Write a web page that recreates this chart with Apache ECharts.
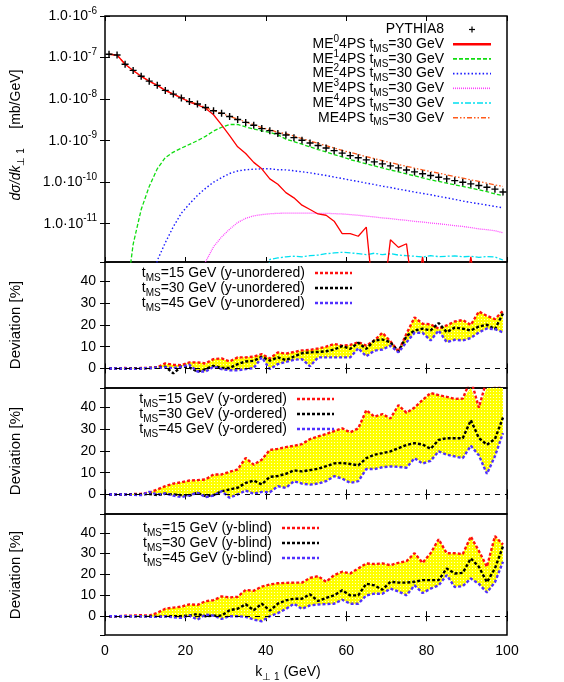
<!DOCTYPE html>
<html>
<head>
<meta charset="utf-8">
<script src="https://cdn.jsdelivr.net/npm/echarts@6/dist/echarts.min.js"></script>
<style>
  html, body { margin: 0; padding: 0; background: #fff; }
  #chart { width: 564px; height: 682px; }
</style>
</head>
<body>
<div id="chart"></div>
<script>
// bin centres, k_perp1 in GeV
var kt = [1, 3, 5, 7, 9, 11, 13, 15, 17, 19, 21, 23, 25, 27, 29, 31, 33, 35, 37, 39,
  41, 43, 45, 47, 49, 51, 53, 55, 57, 59, 61, 63, 65, 67, 69, 71, 73, 75, 77, 79,
  81, 83, 85, 87, 89, 91, 93, 95, 97, 99];

// top panel, dsigma/dk [mb/GeV]  (1e-13 = empty bin, below the frame)
var pythia8 = [1.2e-7, 1.15e-7, 6.9e-8, 4.9e-8, 3.55e-8, 2.7e-8, 2.14e-8, 1.62e-8, 1.32e-8, 1.07e-8,
  8.7e-9, 7.6e-9, 6.3e-9, 5.25e-9, 4.57e-9, 3.8e-9, 3.24e-9, 2.75e-9, 2.34e-9, 1.95e-9,
  1.74e-9, 1.48e-9, 1.37e-9, 1.18e-9, 1.02e-9, 8.8e-10, 7.65e-10, 6.65e-10, 5.75e-10, 5.0e-10,
  4.37e-10, 3.88e-10, 3.44e-10, 3.08e-10, 2.76e-10, 2.47e-10, 2.21e-10, 1.97e-10, 1.77e-10, 1.6e-10,
  1.45e-10, 1.32e-10, 1.2e-10, 1.09e-10, 1.0e-10, 9.1e-11, 8.3e-11, 7.55e-11, 6.8e-11, 5.8e-11];
var me0 = [1.2e-7, 1.15e-7, 6.9e-8, 4.9e-8, 3.55e-8, 2.7e-8, 2.14e-8, 1.62e-8, 1.32e-8, 1.07e-8,
  8.5e-9, 7.3e-9, 6.0e-9, 4.2e-9, 2.4e-9, 1.32e-9, 7.1e-10, 4.9e-10, 3.0e-10, 2.1e-10,
  1.2e-10, 8.9e-11, 5.6e-11, 4.2e-11, 2.8e-11, 2.2e-11, 1.72e-11, 1.6e-11, 1.15e-11, 5.8e-12,
  5.8e-12, 5.0e-12, 8.3e-12, 1e-13, 1e-13, 4.1e-12, 2.7e-12, 3.3e-12, 1e-13, 1.6e-12,
  1e-13, 1e-13, 1e-13, 1e-13, 1e-13, 1.6e-12, 1e-13, 1e-13, 1e-13, 1e-13];
var me1 = [1e-13, 1e-13, 1e-13, 3.2e-12, 2.2e-11, 7.9e-11, 2.1e-10, 3.9e-10, 5.3e-10, 6.6e-10,
  8.1e-10, 1.0e-9, 1.27e-9, 1.7e-9, 2.1e-9, 2.45e-9, 2.45e-9, 2.15e-9, 1.9e-9, 1.72e-9,
  1.58e-9, 1.38e-9, 1.09e-9, 9.5e-10, 8.2e-10, 7.05e-10, 6.1e-10, 5.37e-10, 4.61e-10, 4.06e-10,
  3.5e-10, 3.13e-10, 2.76e-10, 2.47e-10, 2.21e-10, 1.97e-10, 1.77e-10, 1.58e-10, 1.42e-10, 1.27e-10,
  1.14e-10, 1.04e-10, 9.5e-11, 8.65e-11, 7.9e-11, 7.2e-11, 6.55e-11, 5.95e-11, 5.2e-11, 4.75e-11];
var me2 = [1e-13, 1e-13, 1e-13, 1e-13, 1e-13, 1e-13, 1.3e-12, 3.5e-12, 8.5e-12, 1.8e-11,
  3.0e-11, 4.8e-11, 7.1e-11, 1.0e-10, 1.28e-10, 1.62e-10, 1.86e-10, 2.0e-10, 2.05e-10, 2.1e-10,
  2.1e-10, 2.0e-10, 1.98e-10, 1.88e-10, 1.78e-10, 1.68e-10, 1.56e-10, 1.45e-10, 1.33e-10, 1.23e-10,
  1.12e-10, 1.04e-10, 9.5e-11, 8.8e-11, 8.0e-11, 7.45e-11, 6.8e-11, 6.3e-11, 5.77e-11, 5.37e-11,
  4.98e-11, 4.56e-11, 4.22e-11, 3.85e-11, 3.52e-11, 3.26e-11, 3.03e-11, 2.82e-11, 2.6e-11, 2.42e-11];
var me3 = [1e-13, 1e-13, 1e-13, 1e-13, 1e-13, 1e-13, 1e-13, 1e-13, 1e-13, 1e-13,
  1e-13, 1e-13, 1.2e-12, 2.8e-12, 4.8e-12, 7.4e-12, 1.07e-11, 1.35e-11, 1.55e-11, 1.66e-11,
  1.74e-11, 1.78e-11, 1.8e-11, 1.8e-11, 1.8e-11, 1.8e-11, 1.78e-11, 1.78e-11, 1.75e-11, 1.72e-11,
  1.66e-11, 1.6e-11, 1.52e-11, 1.46e-11, 1.38e-11, 1.33e-11, 1.26e-11, 1.21e-11, 1.14e-11, 1.1e-11,
  1.04e-11, 1.0e-11, 9.5e-12, 9.0e-12, 8.6e-12, 8.1e-12, 7.5e-12, 7.2e-12, 6.8e-12, 6.1e-12];
var me4 = [1e-13, 1e-13, 1e-13, 1e-13, 1e-13, 1e-13, 1e-13, 1e-13, 1e-13, 1e-13,
  1e-13, 1e-13, 1e-13, 1e-13, 1e-13, 1e-13, 1e-13, 1e-13, 1e-13, 1e-13,
  1.38e-12, 1.5e-12, 1.6e-12, 1.65e-12, 1.6e-12, 1.7e-12, 1.76e-12, 1.9e-12, 1.98e-12, 2.05e-12,
  2.0e-12, 1.9e-12, 1.8e-12, 1.95e-12, 1.8e-12, 1.9e-12, 1.76e-12, 1.7e-12, 1.65e-12, 1.58e-12,
  1.7e-12, 1.62e-12, 1.65e-12, 1.68e-12, 1.6e-12, 1.65e-12, 1.55e-12, 1.62e-12, 1.58e-12, 1.34e-12];
var me4ps = [1.2e-7, 1.15e-7, 6.9e-8, 4.9e-8, 3.55e-8, 2.7e-8, 2.14e-8, 1.62e-8, 1.32e-8, 1.07e-8,
  8.7e-9, 7.6e-9, 6.3e-9, 5.25e-9, 4.57e-9, 3.8e-9, 3.3e-9, 2.82e-9, 2.42e-9, 2.05e-9,
  1.84e-9, 1.58e-9, 1.47e-9, 1.29e-9, 1.12e-9, 9.8e-10, 8.6e-10, 7.55e-10, 6.65e-10, 5.8e-10,
  5.2e-10, 4.64e-10, 4.1e-10, 3.7e-10, 3.31e-10, 2.97e-10, 2.66e-10, 2.42e-10, 2.17e-10, 1.97e-10,
  1.8e-10, 1.65e-10, 1.5e-10, 1.37e-10, 1.25e-10, 1.14e-10, 1.04e-10, 9.5e-11, 8.6e-11, 7.9e-11];

// deviation panels [%]
var unord15 = [0, 0, 0.2, 0, 0.2, 0.3, 0.5, 2.3, 1.7, 1.5, 2.8, 2.8, 2.3, 4.3, 4.6, 3.2, 5.1, 5.1, 5.4, 6.6,
  4.6, 7.4, 6.8, 7.6, 8.3, 8.5, 9.2, 10.0, 11.3, 10.5, 10.8, 12.1, 10.5, 12.9, 16.4, 12.5, 7.8, 16.0, 23.5, 20.6,
  20.3, 18.3, 19.8, 21.6, 22.3, 20.0, 26.2, 24.2, 22.7, 26.5];
var unord30 = [0, 0, -0.2, 0, 0, 0.2, 0.3, 0.8, -2.3, 0.8, 0.5, -1.5, -0.3, 1.2, 0.2, 0.2, 2.0, 3.2, 3.5, 5.4,
  3.6, 5.1, 3.8, 5.5, 7.0, 7.4, 7.6, 7.9, 8.7, 10.3, 9.0, 11.8, 9.0, 12.9, 13.3, 12.1, 7.8, 14.9, 17.5, 18.3,
  17.5, 20.9, 16.7, 18.8, 18.3, 17.5, 19.3, 20.1, 18.1, 25.3];
var unord45 = [0, 0, 0, -0.2, 0, 0.2, 0.3, 0.5, 0.2, 0.8, 1.7, -1.4, -1.4, 0.8, -0.3, -0.8, -0.8, -0.3, 0.2, 5.1,
  -0.3, 2.0, 3.0, 4.0, 4.3, 1.0, 5.1, 5.1, 5.1, 5.1, 5.1, 9.3, 5.6, 8.2, 8.7, 10.5, 7.4, 12.1, 16.4, 16.4,
  12.9, 17.5, 12.1, 13.2, 12.9, 14.0, 16.6, 18.4, 18.1, 16.6];
var ord15 = [0, 0, 0, 0.2, 0.3, 0.8, 2.3, 3.8, 5.0, 5.6, 6.4, 6.6, 6.9, 9.2, 9.2, 10.4, 11.5, 16.8, 13.7, 16.0,
  20.5, 21.0, 21.8, 22.4, 23.2, 25.5, 26.7, 27.8, 29.2, 30.4, 28.6, 30.4, 38.8, 35.8, 37.0, 35.0, 41.1, 37.6, 40.0, 43.5,
  46.7, 45.7, 44.9, 44.0, 44.1, 53, 40.0, 53, 50, 50];
var ord30 = [0, 0, 0, 0, 0, 0.2, -0.3, 0.3, 0, -0.3, -0.5, 0.8, -0.8, -0.3, 1.5, 2.3, 3.1, 5.3, 6.4, 4.6,
  8.1, 8.5, 9.5, 11.1, 10.6, 11.2, 11.8, 13.0, 14.3, 14.5, 14.0, 13.4, 16.7, 18.3, 19.0, 19.8, 21.3, 22.8, 23.6, 23.0,
  21.0, 25.1, 25.9, 25.9, 25.9, 34.2, 26.0, 22.9, 25.5, 35.4];
var ord45 = [0, 0, 0, -0.2, -0.3, 1.2, 0, 0.5, -0.5, -1.2, -0.3, 0.8, -1.2, -0.5, 1.5, -1.5, 0, 1.8, 0.3, 1.2,
  1.0, 3.8, 3.0, 6.1, 5.0, 4.5, 5.0, 6.1, 8.4, 7.3, 5.3, 6.1, 11.7, 11.7, 12.5, 12.9, 12.7, 12.3, 16.7, 14.2,
  15.5, 19.8, 18.3, 17.5, 16.7, 22.4, 18.0, 9.5, 17.6, 28.2];
var blind15 = [0, 0, 0.2, 0.3, 0.5, 0.3, 1.6, 3.6, 4.1, 4.6, 5.7, 5.4, 7.2, 7.7, 9.5, 9.0, 9.3, 12.6, 12.2, 14.2,
  15.2, 15.8, 16.0, 16.1, 16.1, 18.4, 19.2, 16.5, 19.7, 21.3, 20.5, 22.9, 25.3, 25.0, 25.3, 24.5, 25.6, 26.4, 30.2, 25.6,
  30.2, 36.9, 30.2, 30.2, 29.8, 38.2, 31.3, 23.7, 38.4, 34.3];
var blind30 = [0, 0, 0, 0, 0, 0, -0.3, 0, 0, 0, 0.3, 1.1, 0, 0.3, 0.3, 2.9, 3.6, 5.7, 2.9, 6.0,
  2.7, 6.0, 7.6, 8.4, 8.4, 10.5, 7.3, 8.8, 10.0, 12.4, 10.0, 10.0, 15.6, 14.8, 12.7, 16.5, 16.1, 16.1, 16.5, 17.3,
  17.3, 17.3, 22.9, 20.5, 20.8, 27.7, 23.7, 16.3, 22.9, 33.5];
var blind45 = [0, 0, 0, 0, 0, -0.2, -0.3, 0, -0.5, -0.8, 0.3, -1.6, 0.8, 0.3, -1.3, 0, 0, -0.3, -1.6, -2.4,
  0, 1.5, 3.5, 6.0, 3.5, 5.2, 5.6, 5.8, 6.0, 7.9, 6.0, 6.0, 10.0, 10.8, 10.8, 13.2, 11.9, 10.0, 14.8, 11.1,
  13.2, 14.8, 19.7, 14.0, 14.4, 18.1, 15.5, 11.4, 16.3, 26.1];

var FONT = '"Liberation Sans", Arial, Helvetica, sans-serif';
var RED = '#ff1010', BLK = '#000000', BLU = '#5030ff';
var DEV_MIN = -9, DEV_MAX = 49;

function pairs(ys) { return kt.map(function (k, i) { return [k, ys[i]]; }); }

// yellow cross-hatch used between the 15 and 45 GeV curves
var hatch = document.createElement('canvas');
hatch.width = 3; hatch.height = 3;
(function () {
  var c = hatch.getContext('2d');
  c.fillStyle = '#ffff00'; c.fillRect(0, 0, 3, 3);
  c.fillStyle = '#ffffc8'; c.fillRect(1, 1, 1, 1);
})();

var grids = [
  { left: 105, right: 57, top: 16, height: 246 },
  { left: 105, right: 57, top: 262, height: 126 },
  { left: 105, right: 57, top: 388, height: 126 },
  { left: 105, right: 57, top: 514, height: 121 }
];
grids.forEach(function (g) { g.show = true; g.borderColor = '#000'; g.borderWidth = 1.5; g.backgroundColor = 'transparent'; g.outerBoundsMode = 'none'; });

var tick = { show: true, inside: true, length: 5, lineStyle: { color: '#000', width: 1 } };
var xAxes = [], yAxes = [];
grids.forEach(function (g, i) {
  var last = i === grids.length - 1;
  xAxes.push({
    type: 'value', gridIndex: i, min: 0, max: 100, interval: 20, position: 'bottom',
    axisLine: { show: false }, axisTick: tick, splitLine: { show: false },
    axisLabel: { show: last, color: '#000', fontFamily: FONT, fontSize: 14, margin: 9 }
  });
  xAxes.push({
    type: 'value', gridIndex: i, min: 0, max: 100, interval: 20, position: 'top',
    axisLine: { show: false }, axisTick: tick, splitLine: { show: false }, axisLabel: { show: false }
  });
  if (i === 0) {
    var logLab = {
      color: '#000', margin: 8,
      formatter: function (v) {
        var e = Math.log10(v), r = Math.round(e);
        if (Math.abs(e - r) > 1e-6 || r < -11) return '';
        return '{a|1.0\u00b710}{s|' + r + '}';
      },
      rich: {
        a: { fontFamily: FONT, fontSize: 14, color: '#000', lineHeight: 20 },
        s: { fontFamily: FONT, fontSize: 10, color: '#000', lineHeight: 10, verticalAlign: 'top' }
      }
    };
    yAxes.push({ type: 'log', logBase: 10, gridIndex: 0, min: 1.2e-12, max: 1e-6, position: 'left',
      axisLine: { show: false }, axisTick: tick, splitLine: { show: false }, axisLabel: logLab });
    yAxes.push({ type: 'log', logBase: 10, gridIndex: 0, min: 1.2e-12, max: 1e-6, position: 'right',
      axisLine: { show: false }, axisTick: tick, splitLine: { show: false }, axisLabel: { show: false } });
  } else {
    var devLab = { color: '#000', fontFamily: FONT, fontSize: 14, margin: 9, showMinLabel: false, showMaxLabel: false };
    yAxes.push({ type: 'value', gridIndex: i, min: DEV_MIN, max: DEV_MAX, position: 'left',
      axisLine: { show: false }, axisTick: tick, splitLine: { show: false }, axisLabel: devLab });
    yAxes.push({ type: 'value', gridIndex: i, min: DEV_MIN, max: DEV_MAX, position: 'right',
      axisLine: { show: false }, axisTick: tick, splitLine: { show: false }, axisLabel: { show: false } });
  }
});

function topLine(name, ys, color, dash, width) {
  return {
    name: name, type: 'line', xAxisIndex: 0, yAxisIndex: 0, data: pairs(ys),
    symbol: 'none', clip: true, silent: true,
    lineStyle: { color: color, width: width || 1.3, type: dash || 'solid' }
  };
}

var series = [
  topLine('ME4PS', me4ps, '#ff5a1a', [5, 2, 1.5, 2, 1.5, 2], 1.3),
  topLine('ME4', me4, '#00e0f0', [6, 2, 2, 2], 1.3),
  topLine('ME3', me3, '#ff40ff', [1, 1], 1.3),
  topLine('ME2', me2, '#1a1aff', [1.5, 2.2], 1.4),
  topLine('ME1', me1, '#10dd10', [4, 2], 1.3),
  topLine('ME0', me0, '#ff0000', 'solid', 1.3),
  {
    name: 'PYTHIA8', type: 'scatter', xAxisIndex: 0, yAxisIndex: 0, data: pairs(pythia8),
    symbol: 'path://M4,0h2v4h4v2h-4v4h-2v-4h-4v-2h4z', symbolSize: 7, silent: true,
    itemStyle: { color: '#000', opacity: 1 }, z: 5
  }
];

function clampDev(v) { return Math.max(DEV_MIN, Math.min(DEV_MAX, v)); }

function devPanel(gi, lo, mid, hi) {
  var xa = 2 * gi, ya = 2 * gi;
  // hatched band between the 15 GeV and 45 GeV curves, one polygon
  series.push({
    type: 'custom', xAxisIndex: xa, yAxisIndex: ya, silent: true, z: 1,
    data: [[kt[0], 0]],
    renderItem: function (params, api) {
      var pts = [];
      for (var i = 0; i < kt.length; i++) pts.push(api.coord([kt[i], clampDev(lo[i])]));
      for (var j = kt.length - 1; j >= 0; j--) pts.push(api.coord([kt[j], clampDev(hi[j])]));
      return { type: 'polygon', shape: { points: pts }, style: { fill: { image: hatch, repeat: 'repeat' }, opacity: 1 } };
    }
  });
  [[lo, RED], [mid, BLK], [hi, BLU]].forEach(function (s, j) {
    var o = {
      type: 'line', xAxisIndex: xa, yAxisIndex: ya, data: pairs(s[0]), symbol: 'none', silent: true,
      lineStyle: { color: s[1], width: 2.4, type: [3, 2] }, z: 3
    };
    if (j === 1) {
      o.markLine = {
        silent: true, symbol: 'none', label: { show: false },
        lineStyle: { color: '#000', width: 1, type: [5, 5] },
        data: [{ yAxis: 0 }]
      };
    }
    series.push(o);
  });
}
devPanel(1, unord15, unord30, unord45);
devPanel(2, ord15, ord30, ord45);
devPanel(3, blind15, blind30, blind45);

// ---- keys and axis titles (enhanced text with super/subscripts)
var rich = {
  m: { fontFamily: FONT, fontSize: 14, fill: '#000', lineHeight: 20 },
  i: { fontFamily: FONT, fontSize: 14, fill: '#000', lineHeight: 20, fontStyle: 'italic' },
  p: { fontFamily: FONT, fontSize: 10, fill: '#000', lineHeight: 10, verticalAlign: 'top' },
  b: { fontFamily: FONT, fontSize: 10, fill: '#000', lineHeight: 10, verticalAlign: 'bottom' },
  d: { fontFamily: FONT, fontSize: 15, fill: '#000', lineHeight: 20 }
};
function txt(x, y, text, align, rot) {
  return {
    type: 'text', x: x, y: y, rotation: rot || 0, silent: true, z: 10,
    style: { text: text, rich: rich, x: 0, y: 0, align: align, verticalAlign: 'middle',
      textAlign: align, textVerticalAlign: 'middle', fill: '#000' }
  };
}
function seg(x1, x2, y, color, dash, w) {
  return { type: 'line', silent: true, z: 10, shape: { x1: x1, y1: y, x2: x2, y2: y },
    style: { stroke: color, lineWidth: w, lineDash: dash } };
}

var graphics = [];
var keyY = [29.5, 44.2, 58.9, 73.6, 88.3, 103, 117.7];
graphics.push(txt(444, keyY[0], '{m|PYTHIA8}', 'right'));
graphics.push(seg(469, 475, keyY[0], '#000', null, 1.2));
graphics.push({ type: 'line', silent: true, z: 10, shape: { x1: 472, y1: keyY[0] - 3, x2: 472, y2: keyY[0] + 3 }, style: { stroke: '#000', lineWidth: 1.2 } });
var keyStyle = [
  ['#ff0000', null, 2.4], ['#10dd10', [4, 2], 1.6], ['#1a1aff', [1.5, 2.2], 1.6],
  ['#ff40ff', [1, 1], 1.6], ['#00e0f0', [6, 2, 2, 2], 1.6], ['#ff5a1a', [5, 2, 1.5, 2, 1.5, 2], 1.6]
];
for (var n = 0; n < 6; n++) {
  var lab = n < 5 ? '{m|ME}{p|' + n + '}{m|4PS t}{b|MS}{m|=30 GeV}' : '{m|ME4PS t}{b|MS}{m|=30 GeV}';
  graphics.push(txt(444, keyY[n + 1], lab, 'right'));
  graphics.push(seg(453, 491, keyY[n + 1], keyStyle[n][0], keyStyle[n][1], keyStyle[n][2]));
}

var devKeys = [
  { end: 305, rows: [273, 288, 303], tag: 'y-unordered' },
  { end: 287, rows: [399, 414, 429], tag: 'y-ordered' },
  { end: 272, rows: [528, 543, 558], tag: 'y-blind' }
];
var tms = ['15', '30', '45'], tcol = [RED, BLK, BLU];
devKeys.forEach(function (k) {
  for (var r = 0; r < 3; r++) {
    graphics.push(txt(k.end, k.rows[r], '{m|t}{b|MS}{m|=' + tms[r] + ' GeV (' + k.tag + ')}', 'right'));
    graphics.push(seg(k.end + 10, k.end + 47, k.rows[r], tcol[r], [3, 2], 2.4));
  }
});

graphics.push(txt(16, 135, '{i|d\u03c3/dk}{b|\u22a5 1}{m|     [mb/GeV]}', 'center', Math.PI / 2));
graphics.push(txt(16, 325, '{d|Deviation [%]}', 'center', Math.PI / 2));
graphics.push(txt(16, 451, '{d|Deviation [%]}', 'center', Math.PI / 2));
graphics.push(txt(16, 575, '{d|Deviation [%]}', 'center', Math.PI / 2));
graphics.push(txt(288, 672, '{m|k}{b|\u22a5 1}{m| (GeV)}', 'center'));

var chart = echarts.init(document.getElementById('chart'));
chart.setOption({
  animation: false,
  backgroundColor: '#fff',
  grid: grids,
  xAxis: xAxes,
  yAxis: yAxes,
  series: series,
  graphic: { elements: graphics }
});
</script>
</body>
</html>
